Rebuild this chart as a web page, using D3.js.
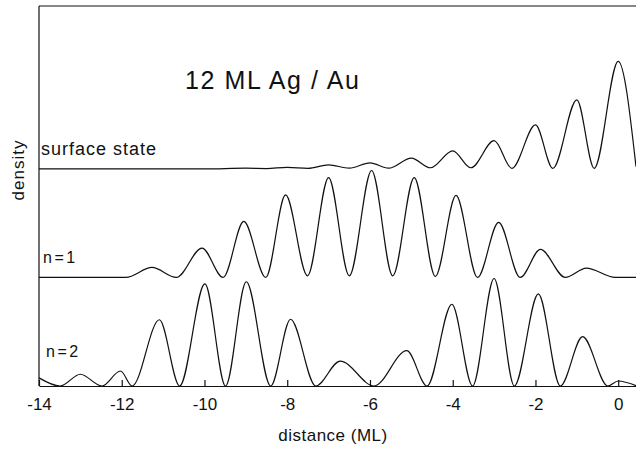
<!DOCTYPE html>
<html>
<head>
<meta charset="utf-8">
<script src="https://cdn.jsdelivr.net/npm/d3@7"></script>
<style>
  body { margin: 0; background: #fff; }
  #canvas { width: 636px; height: 450px; }
  text { font-family: "Liberation Sans", Arial, sans-serif; fill: #111; }
  .axis path, .axis line { stroke: #111; stroke-width: 1.2; }
  .axis text { font-size: 17px; }
</style>
</head>
<body>
<div id="canvas" class="canvas"></div>
<script>
// tick values on the distance axis
var xTicks = [-14, -12, -10, -8, -6, -4, -2, 0];

// surface state (offset 2)
var surfX = [-14, -10, -9, -8.5, -8, -7.5, -7, -6.5, -6, -5.55, -5, -4.54, -4, -3.56, -3, -2.57, -2, -1.58, -1, -0.58, 0, 0.43];
var surfY = [0, 0, 0.006, 0.003, 0.014, 0.005, 0.037, 0.006, 0.055, 0.006, 0.099, 0.01, 0.166, 0.01, 0.26, 0.005, 0.405, 0.005, 0.636, 0.005, 0.99, 0.02];

// n=1 (offset 1)
var n1X = [-14, -11.9, -11.27, -10.68, -10.06, -9.55, -9.05, -8.52, -8.04, -7.51, -7.0, -6.5, -5.96, -5.45, -4.93, -4.42, -3.92, -3.4, -2.89, -2.37, -1.88, -1.28, -0.77, -0.07, 0.43];
var n1Y = [0, 0, 0.092, 0, 0.27, 0, 0.516, 0, 0.76, 0.015, 0.92, 0.015, 0.985, 0.015, 0.92, 0.01, 0.755, 0, 0.507, 0, 0.258, 0, 0.086, 0, 0];

// n=2 (offset 0)
var n2X = [-14, -13.49, -13.0, -12.48, -12.03, -11.75, -11.09, -10.6, -9.99, -9.49, -8.99, -8.4, -7.92, -7.31, -6.72, -5.9, -5.11, -4.62, -4.02, -3.52, -3.0, -2.51, -1.93, -1.4, -0.86, -0.25, 0.0, 0.43];
var n2Y = [0.075, 0, 0.108, 0, 0.138, 0, 0.61, 0, 0.94, 0, 0.96, 0, 0.615, 0, 0.23, 0, 0.325, 0, 0.753, 0, 0.99, 0, 0.848, 0, 0.454, 0, 0.046, 0.003];

var series = [
  {name: 'surface state', x: surfX, y: surfY, offset: 2, lx: 41, ly: 155, fs: 18, ls: 1},
  {name: 'n=1', x: n1X, y: n1Y, offset: 1, lx: 43, ly: 263, fs: 16, ls: 2.5},
  {name: 'n=2', x: n2X, y: n2Y, offset: 0, lx: 46, ly: 357, fs: 16, ls: 2.5}
];

var m = {t: 6, r: 0, b: 64, l: 39};
var outerWidth = 636, outerHeight = 450;
var w = outerWidth - m.l - m.r,
    h = outerHeight - m.t - m.b;

var svg = d3.select('.canvas')
    .append('svg')
    .attr('width', outerWidth)
    .attr('height', outerHeight);

var plot = svg.append('g')
    .attr('transform', 'translate(' + m.l + ',' + m.t + ')');

var scaleX = d3.scaleLinear()
    .domain([-14, 0.43])
    .range([0, w]);

var scaleY = d3.scaleLinear()
    .domain([0, 3.5])
    .range([h, 0]);

var line = d3.line()
    .x(function(d){ return scaleX(d[0]); })
    .y(function(d){ return scaleY(d[1]); })
    .curve(d3.curveMonotoneX);

plot.selectAll('.curve')
    .data(series)
    .enter()
    .append('path')
    .attr('class', 'curve')
    .attr('d', function(s){
      return line(s.x.map(function(v, i){ return [v, s.y[i] + s.offset]; }));
    })
    .style('fill', 'none')
    .style('stroke', '#111')
    .style('stroke-width', 1.2);

// frame: left and top
plot.append('line')
    .attr('x1', 0).attr('x2', 0)
    .attr('y1', 0).attr('y2', h)
    .style('stroke', '#111').style('stroke-width', 1.2);
plot.append('line')
    .attr('x1', 0).attr('x2', w)
    .attr('y1', 0).attr('y2', 0)
    .style('stroke', '#111').style('stroke-width', 1.2);

var axisX = d3.axisBottom()
    .scale(scaleX)
    .tickValues(xTicks)
    .tickSize(-6)
    .tickSizeOuter(0)
    .tickPadding(12)
    .tickFormat(function(d){ return String(d); });

plot.append('g').attr('class', 'axis axis-x')
    .attr('transform', 'translate(0,' + h + ')')
    .call(axisX)
    .selectAll('text')
    .style('font-family', '"Liberation Sans", Arial, sans-serif')
    .style('fill', '#111');

// labels
svg.selectAll('.label')
    .data(series)
    .enter()
    .append('text')
    .attr('class', 'label')
    .attr('x', function(s){ return s.lx; })
    .attr('y', function(s){ return s.ly; })
    .style('font-size', function(s){ return s.fs + 'px'; })
    .style('letter-spacing', function(s){ return s.ls + 'px'; })
    .text(function(s){ return s.name; });

svg.append('text')
    .attr('x', 185)
    .attr('y', 89)
    .style('font-size', '25px')
    .style('letter-spacing', '1.6px')
    .text('12 ML Ag / Au');

svg.append('text')
    .attr('x', 333)
    .attr('y', 441)
    .attr('text-anchor', 'middle')
    .style('font-size', '17px')
    .style('letter-spacing', '0.5px')
    .text('distance (ML)');

svg.append('text')
    .attr('transform', 'translate(24,170) rotate(-90)')
    .attr('text-anchor', 'middle')
    .style('font-size', '17px')
    .style('letter-spacing', '1px')
    .text('density');
</script>
</body>
</html>
